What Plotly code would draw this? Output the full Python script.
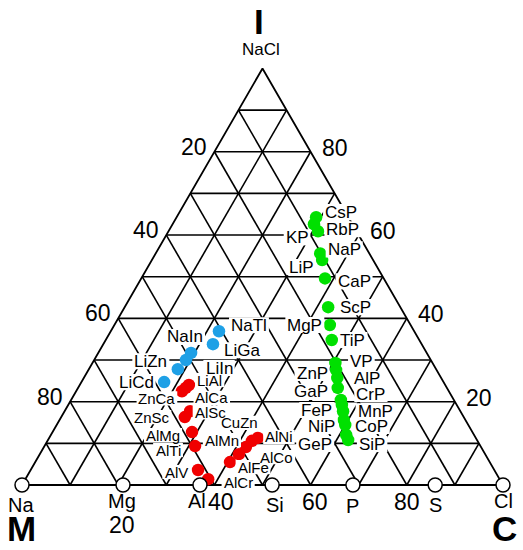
import math
import plotly.graph_objects as go

# ---------------- data (ternary %: ionic I, covalent C; metallic = 100 - I - C) ----
element_names = ["Na", "Mg", "Al", "Si", "P", "S", "Cl"]
element_cov = [0, 21, 37, 52, 68.8, 85.9, 100]

green_names = ["CsP", "RbP", "KP", "NaP", "LiP", "CaP", "ScP", "MgP", "TiP", "VP",
               "ZnP", "AlP", "GaP", "CrP", "FeP", "MnP", "NiP", "CoP", "GeP", "SiP"]
green_ionic = [64.3, 62.6, 60.9, 55.6, 54.0, 49.6, 42.7, 38.4, 34.8, 29.3,
               27.6, 25.7, 23.3, 20.4, 19.2, 17.7, 15.6, 14.4, 12.0, 10.8]
green_cov = [29.0, 29.4, 31.1, 34.2, 35.4, 38.2, 42.3, 44.8, 47.0, 50.5,
             51.5, 52.7, 54.0, 56.1, 56.9, 57.9, 59.1, 60.0, 61.4, 62.4]

blue_names = ["NaTl", "LiGa", "NaIn", "LiIn", "LiZn", "LiCd"]
blue_ionic = [36.9, 33.8, 31.7, 30.0, 27.8, 24.7]
blue_cov = [22.5, 22.8, 19.3, 19.1, 18.5, 17.2]

red_names = ["LiAl", "AlCa", "ZnCa", "AlSc", "ZnSc", "AlMg", "AlTi", "AlV", "AlCr",
             "AlFe", "AlCo", "AlMn", "CuZn", "AlNi"]
red_ionic = [24.0, 23.3, 22.5, 17.7, 16.3, 12.7, 9.35, 3.6, 1.4, 5.5, 7.4, 9.1, 10.6, 11.3]
red_cov = [22.7, 22.4, 22.0, 26.1, 25.7, 29.0, 31.3, 34.8, 38.0, 40.5, 41.4, 42.0, 42.5, 43.4]

tick_labels = ["20", "40", "60", "80"]
tick_values = [20, 40, 60, 80]

# ---------------- layout helpers ----------------
S3 = math.sqrt(3) / 2
PX = 4.81          # pixels per ternary unit
X0, Y0 = 22, 485   # pixel position of the M vertex


def tern(ionic, cov):
    return cov + ionic / 2.0, ionic * S3


def pix(px, py):
    return (px - X0) / PX, (Y0 - py) / PX


FONT = "Liberation Sans, Arial, sans-serif"
CHAR_W = {"A": .667, "C": .722, "G": .778, "I": .278, "K": .667, "L": .556, "M": .833,
          "N": .722, "P": .667, "R": .722, "S": .667, "T": .611, "V": .667, "Z": .611,
          "F": .611, "a": .556, "b": .556, "c": .5, "d": .556, "e": .556, "g": .556,
          "i": .222, "l": .222, "n": .556, "o": .556, "r": .333, "s": .5, "u": .556}

fig = go.Figure()

# grid (10 % lattice)
gx, gy = [], []
for k in range(10, 100, 10):
    for (i1, c1), (i2, c2) in [((k, 0), (k, 100 - k)),
                               ((0, k), (100 - k, k)),
                               ((0, 100 - k), (100 - k, 0))]:
        a = tern(i1, c1)
        b = tern(i2, c2)
        gx += [a[0], b[0], None]
        gy += [a[1], b[1], None]
fig.add_trace(go.Scatter(x=gx, y=gy, mode="lines",
                         line=dict(color="black", width=1.6), hoverinfo="skip"))
# outline
corners = [tern(0, 0), tern(0, 100), tern(100, 0), tern(0, 0)]
fig.add_trace(go.Scatter(x=[c[0] for c in corners], y=[c[1] for c in corners],
                         mode="lines", line=dict(color="black", width=1.8),
                         hoverinfo="skip"))

shapes = []
texts = []


def label(text, x, y, dx=0, dy=0, size=16, bold=False, bg=True):
    t = ("<b>%s</b>" % text) if bold else text
    texts.append(dict(text=t, x=x, y=y, xref="x", yref="y", showarrow=False,
                      xshift=dx, yshift=-dy,
                      font=dict(family=FONT, size=size, color="black")))
    if bg:
        w = sum(CHAR_W.get(ch, .6) for ch in text) * size + 4
        h = size * 0.95
        shapes.append(dict(type="rect", layer="above", xref="x", yref="y",
                           xsizemode="pixel", ysizemode="pixel", xanchor=x, yanchor=y,
                           x0=dx - w / 2, x1=dx + w / 2, y0=-dy - h / 2, y1=-dy + h / 2,
                           fillcolor="white", line=dict(width=0)))


# compound dots
for ion, cov, col in [(green_ionic, green_cov, "#00e000"),
                      (blue_ionic, blue_cov, "#1ea0e6"),
                      (red_ionic, red_cov, "#f00000")]:
    pts = [tern(i, c) for i, c in zip(ion, cov)]
    fig.add_trace(go.Scatter(x=[p[0] for p in pts], y=[p[1] for p in pts],
                             mode="markers",
                             marker=dict(size=12.5, color=col, line=dict(width=0))))

# element circles on base
ep = [tern(0, c) for c in element_cov]
fig.add_trace(go.Scatter(x=[p[0] for p in ep], y=[p[1] for p in ep], mode="markers",
                         marker=dict(size=14, color="white",
                                     line=dict(color="black", width=1.5))))

green_off = [(25, -5), (29, 5), (-21, 6), (24, -4), (-21, 7), (29, 3), (27, 0), (-25, 0),
             (21, 0), (26, -1), (-24, 3), (30, 1), (-27, 4), (30, -6), (-25, 5), (32, 0),
             (-22, 6), (26, 1), (-31, 9), (24, 4)]
blue_off = [(30, -6), (29, 6), (-6, -16), (33, 8), (-27, -8), (-28, 0)]
red_off = [(21, -5), (26, 10), (-25, 7), (20, 1), (-33, 0), (-29, 3), (-27, 4), (-22, 2),
           (30, 3), (23, 5), (38, 3), (-24, -7), (-12, -18), (21, -1)]

for names, ion, cov, offs, sz in [(green_names, green_ionic, green_cov, green_off, 17),
                                  (blue_names, blue_ionic, blue_cov, blue_off, 17),
                                  (red_names, red_ionic, red_cov, red_off, 15)]:
    for n, i, c, (dx, dy) in zip(names, ion, cov, offs):
        x, y = tern(i, c)
        label(n, x, y, dx, dy, size=sz)

# element names
el_off = [(-1, 20), (-1, 16), (-3, 16), (3, 20), (0, 21), (0, 20), (0, 16)]
for n, c, (dx, dy) in zip(element_names, element_cov, el_off):
    x, y = tern(0, c)
    label(n, x, y, dx, dy, size=20, bg=False)

# tick labels: left (metallic), right (ionic), bottom (covalent)
for t, v in zip(tick_labels, tick_values):
    x, y = tern(100 - v, 0)
    label(t, x, y, -20, -5, size=23, bg=False)
    x, y = tern(v, 100 - v)
    label(t, x, y, 24, -4, size=23, bg=False)
bot_off = {20: (4, 40), 40: (7, 17), 60: (4, 17), 80: (0, 17)}
for t, v in zip(tick_labels, tick_values):
    x, y = tern(0, v)
    dx, dy = bot_off[v]
    label(t, x, y, dx, dy, size=23, bg=False)

# corner titles
for t, (px_, py_), sz, b in [("I", (259, 21), 35, True), ("NaCl", (261, 49), 17, False),
                             ("M", (21, 528), 35, True), ("C", (504, 528), 35, True)]:
    x, y = pix(px_, py_)
    label(t, x, y, size=sz, bold=b, bg=False)

fig.update_layout(
    width=523, height=550, autosize=False,
    margin=dict(l=0, r=0, t=0, b=0),
    paper_bgcolor="white", plot_bgcolor="white",
    showlegend=False, annotations=texts, shapes=shapes,
    xaxis=dict(range=[-X0 / PX, (523 - X0) / PX], visible=False, fixedrange=True),
    yaxis=dict(range=[(Y0 - 550) / PX, Y0 / PX], visible=False, fixedrange=True),
)

fig.write_html("out.html", config={"displayModeBar": False},
               post_script="document.body.style.margin='0';")
